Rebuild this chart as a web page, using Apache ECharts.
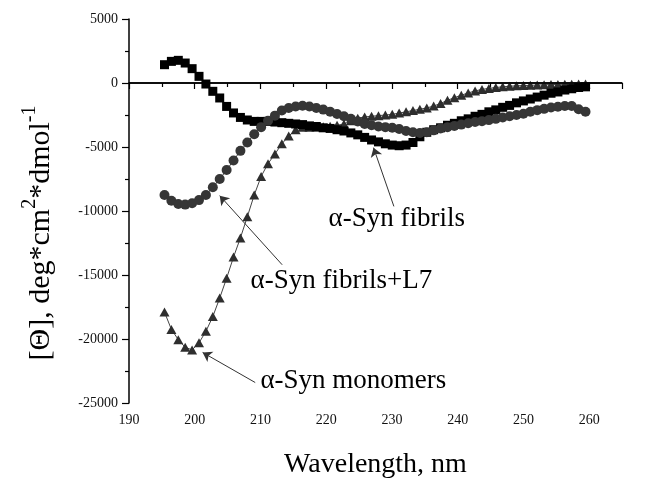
<!DOCTYPE html>
<html>
<head>
<meta charset="utf-8">
<script src="https://cdn.jsdelivr.net/npm/echarts@6/dist/echarts.min.js"></script>
<style>html,body{margin:0;padding:0;background:#fff;}#c{width:646px;height:480px;}</style>
</head>
<body>
<div id="c"></div>
<script>
const wavelength = [195.4,196.45,197.5,198.55,199.6,200.65,201.7,202.75,203.8,204.85,205.9,206.95,208.0,209.05,210.1,211.15,212.2,213.25,214.3,215.35,216.4,217.45,218.5,219.55,220.6,221.65,222.7,223.75,224.8,225.85,226.9,227.95,229.0,230.05,231.1,232.15,233.2,234.25,235.3,236.35,237.4,238.45,239.5,240.55,241.6,242.65,243.7,244.75,245.8,246.85,247.9,248.95,250.0,251.05,252.1,253.15,254.2,255.25,256.3,257.35,258.4,259.45];
const fibrils = [1430,1690,1770,1560,1120,520,-80,-650,-1170,-1830,-2340,-2690,-2890,-3000,-3000,-3000,-3050,-3100,-3150,-3200,-3250,-3350,-3400,-3500,-3550,-3650,-3750,-3900,-4050,-4250,-4450,-4600,-4750,-4850,-4900,-4850,-4650,-4200,-3850,-3650,-3500,-3300,-3150,-2950,-2800,-2600,-2450,-2250,-2100,-1900,-1750,-1550,-1400,-1250,-1100,-950,-800,-700,-550,-450,-350,-300];
const fibrilsL7 = [-8750,-9200,-9450,-9500,-9400,-9150,-8750,-8150,-7500,-6800,-6050,-5300,-4650,-4000,-3450,-2950,-2550,-2150,-1950,-1830,-1780,-1830,-1950,-2080,-2250,-2420,-2600,-2800,-3000,-3200,-3300,-3400,-3450,-3500,-3600,-3750,-3850,-3900,-3850,-3700,-3550,-3450,-3350,-3250,-3150,-3050,-2980,-2900,-2800,-2700,-2600,-2500,-2400,-2250,-2120,-2020,-1920,-1850,-1800,-1800,-2050,-2250];
const monomers = [-17900,-19250,-20050,-20650,-20850,-20300,-19400,-18250,-16800,-15250,-13600,-12100,-10450,-8750,-7300,-6300,-5550,-4750,-4150,-3650,-3450,-3450,-3450,-3420,-3380,-3300,-3200,-2950,-2750,-2650,-2600,-2550,-2500,-2450,-2350,-2250,-2150,-2050,-1950,-1800,-1600,-1350,-1150,-950,-780,-620,-500,-420,-350,-300,-250,-220,-200,-180,-160,-140,-120,-110,-100,-90,-80,-80];

const xTicks = [190,200,210,220,230,240,250,260];
const yTicks = [5000,0,-5000,-10000,-15000,-20000,-25000];

// annotations: [text, text anchor (left, middle) in data coords, arrow tail, arrow head]
const annFibrils = ['α-Syn fibrils', [220.35,-10600], [230.3,-9640], [227.2,-5050]];
const annFibrilsL7 = ['α-Syn fibrils+L7', [208.5,-15450], [213.3,-14200], [203.8,-8800]];
const annMonomers = ['α-Syn monomers', [210.0,-23260], [209.2,-23400], [201.2,-21050]];
const annotations = [annFibrils, annFibrilsL7, annMonomers];

const FONT = "'Liberation Serif','Times New Roman',serif";
const zip = (xs, ys) => xs.map((x, i) => [x, ys[i]]);

const chart = echarts.init(document.getElementById('c'), null, {renderer: 'canvas'});
chart.setOption({
  animation: false,
  backgroundColor: '#fff',
  grid: {left: 129, right: 24, top: 19, bottom: 77, containLabel: false, outerBoundsMode: 'none'},
  xAxis: {
    type: 'value', min: 190, max: 265, interval: 10,
    name: 'Wavelength, nm', nameLocation: 'middle', nameGap: 48,
    nameTextStyle: {fontFamily: FONT, fontSize: 28, color: '#000'},
    axisLine: {lineStyle: {color: '#000', width: 1.5}},
    axisTick: {show: true, inside: false, length: 6, lineStyle: {color: '#000', width: 1.2}},
    minorTick: {show: true, splitNumber: 2, length: 4, lineStyle: {color: '#000', width: 1.2}},
    axisLabel: {fontFamily: FONT, fontSize: 14, color: '#111', margin: 10, showMaxLabel: false,
      formatter: v => (xTicks.indexOf(v) >= 0 ? String(v) : '')},
    splitLine: {show: false}
  },
  yAxis: {
    type: 'value', min: -25000, max: 5000, interval: 5000,
    axisLine: {onZero: false, lineStyle: {color: '#000', width: 1.5}},
    axisTick: {show: true, inside: false, length: 7, lineStyle: {color: '#000', width: 1.2}},
    minorTick: {show: true, splitNumber: 2, length: 4, lineStyle: {color: '#000', width: 1.2}},
    axisLabel: {fontFamily: FONT, fontSize: 14, color: '#111', margin: 11,
      formatter: v => (yTicks.indexOf(v) >= 0 ? String(v) : '')},
    splitLine: {show: false}
  },
  graphic: [{
    type: 'text', x: 41, y: 233, rotation: Math.PI / 2,
    style: {
      text: '{m|[Θ], deg*cm}{s|2}{m|*dmol}{s|-1}',
      align: 'center', verticalAlign: 'middle',
      rich: {
        m: {fontFamily: FONT, fontSize: 30, lineHeight: 42, verticalAlign: 'middle', fill: '#000'},
        s: {fontFamily: FONT, fontSize: 20, lineHeight: 22, verticalAlign: 'top', fill: '#000'}
      }
    }
  }],
  series: [
    {
      name: 'α-Syn monomers', type: 'line', data: zip(wavelength, monomers),
      symbol: 'triangle', symbolSize: [10, 9], showAllSymbol: true,
      itemStyle: {color: '#2e2e2e'}, lineStyle: {color: '#444', width: 1},
      markLine: {
        silent: true, symbol: 'none', animation: false,
        label: {show: false},
        lineStyle: {color: '#000', width: 1.5, type: 'solid'},
        data: [{yAxis: 0}]
      },
      z: 2
    },
    {
      name: 'α-Syn fibrils', type: 'line', data: zip(wavelength, fibrils),
      symbol: 'rect', symbolSize: 9, showAllSymbol: true,
      itemStyle: {color: '#000'}, lineStyle: {color: '#000', width: 1},
      z: 3
    },
    {
      name: 'α-Syn fibrils+L7', type: 'line', data: zip(wavelength, fibrilsL7),
      symbol: 'circle', symbolSize: 10, showAllSymbol: true,
      itemStyle: {color: '#363636'}, lineStyle: {color: '#363636', width: 1},
      z: 4
    },
    {
      name: 'annotations', type: 'scatter', data: [], silent: true,
      markLine: {
        silent: true, animation: false,
        symbol: ['none', 'arrow'], symbolSize: 9,
        label: {show: false},
        lineStyle: {color: '#333', width: 1, type: 'solid'},
        itemStyle: {color: '#333'},
        data: annotations.map(a => [{coord: a[2]}, {coord: a[3]}])
      },
      markPoint: {
        silent: true, animation: false, symbol: 'circle', symbolSize: 0,
        label: {show: true, position: 'right', distance: 0, formatter: '{b}',
          fontFamily: FONT, fontSize: 27, color: '#000', align: 'left', verticalAlign: 'middle'},
        data: annotations.map(a => ({name: a[0], coord: a[1]}))
      },
      z: 5
    }
  ]
});
</script>
</body>
</html>
